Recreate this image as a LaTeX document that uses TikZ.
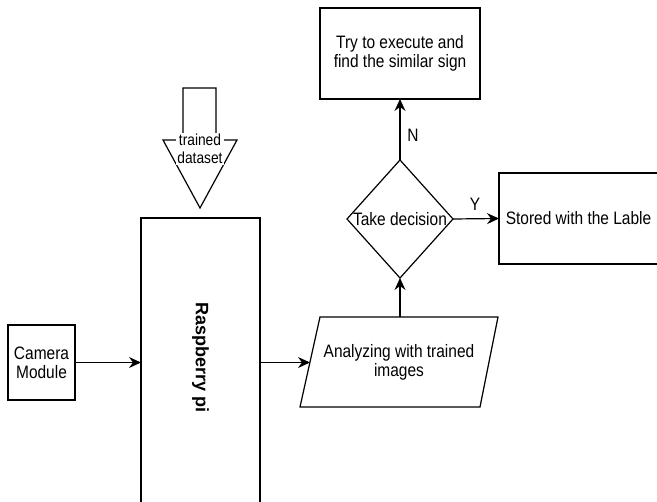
\documentclass[tikz,border=0pt]{standalone}
\usepackage{fontspec}
\setmainfont[FakeStretch=0.86]{Liberation Sans}
\newfontfamily\rotfont{Liberation Sans}
\usetikzlibrary{arrows.meta,shapes.geometric}
\begin{document}
\begin{tikzpicture}[x=1pt,y=-1pt,
  line width=1.2pt,
  txt/.style={font=\fontsize{18}{19}\selectfont, align=center, inner sep=0pt},
  box/.style={draw, inner sep=0pt, outer sep=0pt, txt},
  arr/.style={-{Stealth[length=12pt,width=11pt,inset=4pt]}},
]
\useasboundingbox (0,0) rectangle (657,502);
\fill[white] (0,0) rectangle (657,502);
\clip (0,0) rectangle (657,502);

% boxes
\node[box, minimum width=67pt, minimum height=75pt] (cam) at (41.5,362.5) {Camera\\Module};
\node[box, minimum width=119pt, minimum height=285pt] (pi) at (200.5,360.5) {};
\node[rotate=-90, inner sep=0pt, font=\rotfont\bfseries\fontsize{18}{19}\selectfont] (pitxt) at (200.5,358) {Raspberry pi};
\node[box, minimum width=160pt, minimum height=91pt] (try) at (400,53.5) {Try to execute and\\find the similar sign};
\node[box, minimum width=159pt, minimum height=91pt] (store) at (578.5,218.5) {Stored with the Lable};
\node[draw, diamond, minimum width=106pt, minimum height=118pt, inner sep=0pt, outer sep=0pt] (dec) at (400,219) {};
\node[txt] (dectxt) at (400,219) {Take decision};

% parallelogram
\coordinate (p1) at (320,317);
\coordinate (p2) at (498,317);
\coordinate (p3) at (480,407);
\coordinate (p4) at (300,407);
\draw (p1) -- (p2) -- (p3) -- (p4) -- cycle;
\node[txt] (ana) at (399,362.5) {Analyzing with trained\\images};
\coordinate (paraL) at (310,362.5);
\coordinate (paraT) at (400,317);

% trained dataset arrow shape
\draw (183,140) -- (183,88) -- (216,88) -- (216,140) -- (237,140) -- (200,208) -- (163,140) -- cycle;
\node[fill=white, inner sep=1pt, align=center, font=\fontsize{16}{17.5}\selectfont] (ds) at (200,149) {trained\\dataset};

% connectors
\draw[arr] (cam.east) -- (cam.east -| pi.west);
\draw[arr] (cam.east -| pi.east) -- (paraL);
\draw[arr] (paraT) -- (dec.south);
\draw[arr] (dec.north) -- (try.south);
\draw[arr] (dec.east) -- (store.west);
\node[txt] (nlab) at (413,135) {N};
\node[txt] (ylab) at (475,204) {Y};
\end{tikzpicture}
\end{document}
